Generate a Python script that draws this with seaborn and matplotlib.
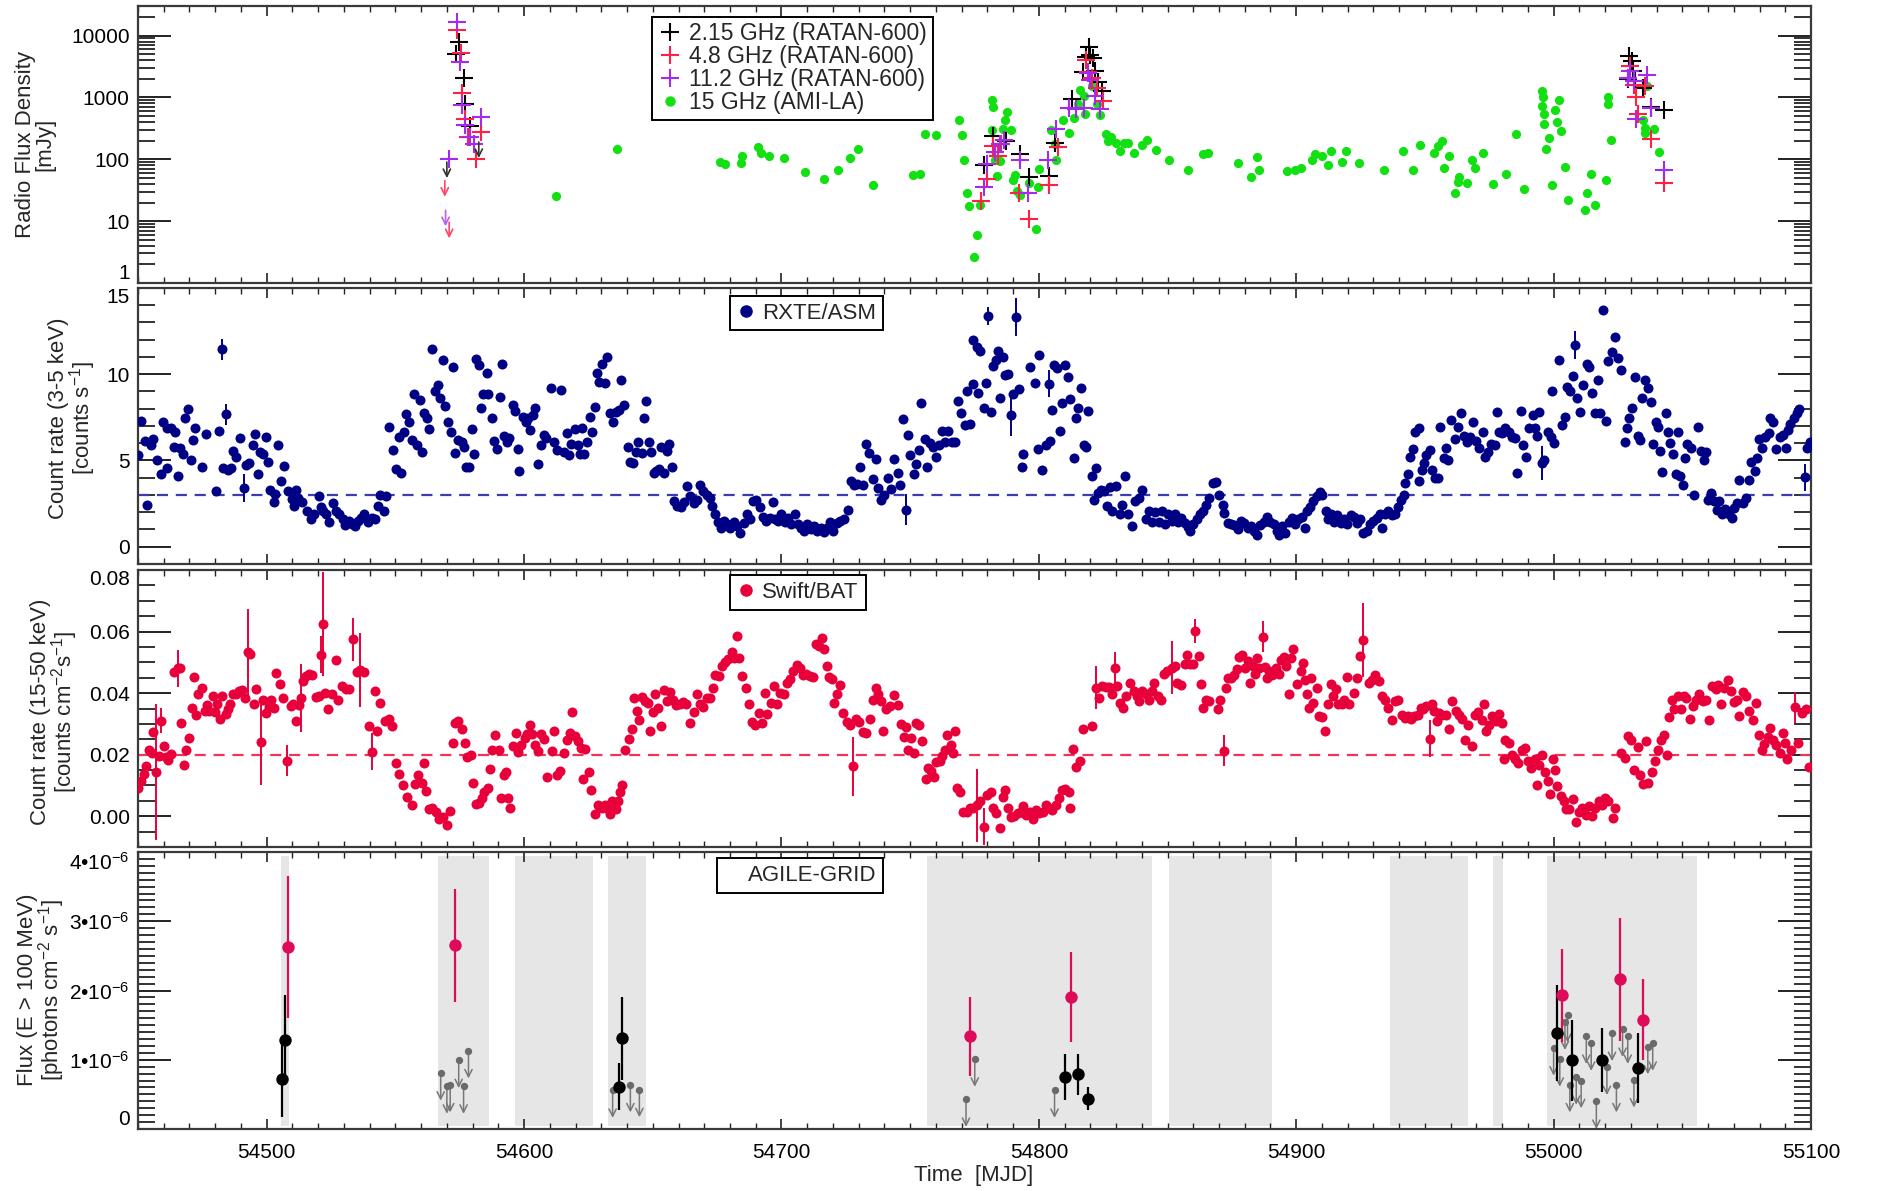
import matplotlib
matplotlib.use("Agg")
import matplotlib.pyplot as plt
import matplotlib.ticker as mticker
from matplotlib.lines import Line2D
import seaborn as sns

sns.set_theme(style="ticks")
plt.rcParams["font.family"] = ["Liberation Sans", "DejaVu Sans"]
plt.rcParams["mathtext.fontset"] = "custom"
plt.rcParams["mathtext.rm"] = "Liberation Sans"
plt.rcParams["mathtext.default"] = "regular"

# ---------------- radio (RATAN-600, AMI-LA) ----------------
r215_mjd = [54574.6, 54573.5, 54576.5, 54577.2, 54578.9, 54778.8, 54782.2, 54787.3, 54792.7, 54796.1,
            54803.9, 54806.3, 54812.9, 54817.1, 54818.5, 54819.5, 54820.0, 54821.0, 54822.0, 54822.9,
            54824.4, 55028.8, 55029.3, 55030.5, 55031.0, 55031.7, 55034.6, 55037.8, 55042.7]
r215_flux = [7800, 5050, 2070, 770, 339, 82, 236, 200, 123, 51,
             53, 182, 950, 2550, 4470, 6460, 4930, 4370, 2650, 1760,
             1260, 1995, 4750, 3940, 2720, 1810, 1430, 695, 614]
r48_mjd = [54574.1, 54575.3, 54576.0, 54577.0, 54578.4, 54581.2, 54583.1, 54777.6, 54779.8, 54782.0,
           54784.0, 54785.4, 54792.2, 54796.1, 54803.9, 54807.3, 54811.7, 54818.2, 54819.0, 54820.7,
           54822.4, 54824.9, 55029.8, 55031.2, 55032.2, 55032.9, 55035.4, 55037.8, 55042.7]
r48_flux = [12300, 5150, 1170, 450, 228, 100, 275, 21, 48, 161,
            115, 178, 28, 11, 38, 157, 679, 3950, 2550, 2070,
            1430, 890, 3270, 1615, 1007, 543, 1550, 215, 41]
r112_mjd = [54573.9, 54575.1, 54575.8, 54577.0, 54579.0, 54580.7, 54583.2, 54570.9, 54778.8, 54780.0,
            54782.9, 54784.9, 54786.6, 54792.7, 54795.6, 54803.7, 54806.8, 54811.7, 54814.6, 54817.6,
            54819.0, 54820.0, 54822.0, 54823.9, 55028.8, 55029.8, 55031.2, 55032.2, 55036.1, 55037.8,
            55042.7]
r112_flux = [16300, 3700, 740, 353, 228, 178, 490, 100, 36, 84,
             130, 178, 207, 98, 29, 98, 311, 679, 654, 679,
             2460, 1875, 1070, 654, 2070, 2720, 1830, 451, 2260, 679,
             66]
ami_mjd = [54612.3, 54636.1, 54676.1, 54678.0, 54684.1, 54684.8, 54690.7, 54692.1, 54695.2, 54700.8,
           54709.0, 54716.4, 54722.0, 54726.7, 54729.8, 54735.4, 54751.0, 54753.8, 54755.7, 54759.9,
           54768.8, 54770.0, 54771.0, 54772.0, 54773.0, 54774.9, 54775.9, 54777.1, 54781.7, 54782.2,
           54781.7, 54782.9, 54783.9, 54784.9, 54786.1, 54786.8, 54787.8, 54789.0, 54789.8, 54790.7,
           54791.7, 54792.7, 54796.3, 54798.8, 54799.5, 54800.0, 54804.9, 54806.1, 54806.8, 54809.3,
           54811.7, 54813.7, 54815.4, 54816.1, 54817.6, 54817.8, 54820.7, 54822.4, 54823.9, 54825.9,
           54826.8, 54828.0, 54829.8, 54831.7, 54832.9, 54834.6, 54836.8, 54840.2, 54841.9, 54845.6,
           54850.5, 54857.8, 54863.9, 54865.9, 54877.3, 54882.4, 54884.6, 54885.4, 54896.3, 54899.5,
           54902.0, 54906.1, 54907.3, 54910.2, 54912.2, 54913.4, 54917.6, 54919.5, 54924.4, 54934.1,
           54941.5, 54945.4, 54948.1, 54953.7, 54954.9, 54956.6, 54957.6, 54959.3, 54961.5, 54962.7,
           54963.4, 54966.3, 54968.3, 54969.5, 54972.4, 54976.3, 54981.5, 54985.4, 54988.3, 54995.6,
           54995.9, 54995.6, 54996.1, 54996.3, 54997.1, 54998.3, 54999.3, 55000.5, 55001.5, 55002.2,
           55002.9, 55004.4, 55005.4, 55012.9, 55012.2, 55014.6, 55015.9, 55020.2, 55021.2, 55021.2,
           55022.2, 55034.9, 55035.4, 55036.1, 55035.6, 55039.0, 55040.9]
ami_flux = [25.5, 144, 92, 84, 86, 111, 157, 127, 111, 106,
            62, 48, 68, 106, 148, 39, 56, 58, 258, 249,
            434, 251, 96, 29, 17.5, 2.6, 6.0, 18.4, 915, 695,
            292, 98, 53, 93, 310, 434, 576, 300, 47, 55,
            31, 26, 41, 7.5, 36, 70, 300, 178, 98, 434,
            264, 467, 787, 1325, 1035, 543, 1500, 768, 524, 258,
            200, 233, 183, 134, 183, 183, 127, 167, 207, 139,
            99, 66, 123, 126, 88, 51, 108, 68, 64, 66,
            73, 98, 123, 115, 82, 135, 90, 135, 86, 68,
            135, 68, 167, 126, 161, 200, 73, 115, 28, 43,
            51, 41, 96, 73, 127, 40, 58, 258, 33, 1290,
            1007, 713, 543, 365, 148, 222, 39, 614, 398, 915,
            285, 75, 22, 28, 15, 57, 18, 47, 1007, 787,
            207, 424, 264, 1550, 323, 311, 130]
# upper limits (arrow start values)
ul215_mjd = [54570.0, 54582.4]
ul215_flux = [90, 190]
ul48_mjd = [54569.2, 54570.9]
ul48_flux = [45, 9.6]
ul112_mjd = [54569.5]
ul112_flux = [15]

# ---------------- RXTE/ASM 3-5 keV ----------------
asm_mjd = [54450.1, 54451.0, 54452.8, 54453.6, 54455.0, 54455.8, 54457.5, 54459.0, 54459.6, 54461.3,
           54461.3, 54462.7, 54463.8, 54464.2, 54465.5, 54466.5, 54467.6, 54468.4, 54469.5, 54470.5,
           54471.2, 54472.2, 54474.9, 54476.4, 54480.2, 54481.3, 54482.7, 54483.2, 54484.0, 54484.8,
           54486.1, 54486.9, 54488.2, 54489.5, 54491.2, 54491.8, 54493.3, 54494.5, 54495.4, 54496.6,
           54497.5, 54498.7, 54499.6, 54500.4, 54501.3, 54502.9, 54503.4, 54504.4, 54505.5, 54506.9,
           54508.4, 54509.7, 54510.5, 54511.4, 54512.2, 54513.9, 54515.6, 54517.3, 54518.5, 54520.2,
           54521.0, 54521.9, 54523.2, 54524.4, 54525.7, 54526.9, 54528.2, 54529.5, 54530.3, 54532.0,
           54533.3, 54534.5, 54535.4, 54536.6, 54537.9, 54539.2, 54540.8, 54542.1, 54543.4, 54544.2,
           54545.5, 54546.3, 54547.4, 54549.1, 54550.1, 54551.4, 54552.2, 54553.3, 54554.3, 54555.4,
           54556.4, 54557.3, 54558.5, 54559.4, 54560.2, 54561.1, 54562.3, 54563.2, 54564.4, 54565.3,
           54566.5, 54567.4, 54568.4, 54569.1, 54570.3, 54571.6, 54572.2, 54573.3, 54574.3, 54575.8,
           54576.6, 54577.5, 54578.7, 54579.6, 54580.4, 54581.3, 54582.3, 54583.4, 54584.2, 54585.5,
           54585.9, 54587.6, 54588.4, 54589.3, 54590.5, 54591.4, 54592.2, 54593.5, 54594.3, 54595.6,
           54596.4, 54597.5, 54598.1, 54599.6, 54600.6, 54601.7, 54602.3, 54603.6, 54604.4, 54605.3,
           54606.5, 54607.8, 54608.6, 54610.3, 54611.6, 54612.8, 54614.5, 54615.4, 54616.6, 54617.5,
           54618.3, 54619.6, 54620.8, 54621.7, 54622.5, 54623.4, 54624.6, 54625.5, 54626.3, 54627.6,
           54628.4, 54629.3, 54630.1, 54631.4, 54632.2, 54633.5, 54634.7, 54635.6, 54636.8, 54637.7,
           54639.0, 54640.2, 54641.1, 54642.3, 54643.6, 54644.4, 54645.7, 54646.5, 54647.4, 54648.6,
           54649.5, 54650.3, 54651.2, 54652.4, 54653.3, 54654.5, 54655.4, 54656.4, 54657.5, 54658.3,
           54659.6, 54660.8, 54662.1, 54663.4, 54664.6, 54665.9, 54667.2, 54668.4, 54669.7, 54671.0,
           54672.2, 54673.0, 54674.3, 54675.2, 54676.4, 54677.7, 54678.9, 54680.2, 54681.5, 54682.7,
           54684.0, 54685.3, 54686.5, 54687.8, 54689.1, 54690.3, 54691.6, 54692.8, 54694.1, 54695.4,
           54696.6, 54697.5, 54698.7, 54700.0, 54701.3, 54702.5, 54703.8, 54705.1, 54706.3, 54707.6,
           54708.8, 54710.1, 54711.4, 54712.6, 54713.9, 54715.2, 54716.4, 54717.7, 54719.0, 54720.2,
           54721.5, 54722.7, 54724.4, 54725.7, 54726.9, 54728.2, 54729.5, 54730.7, 54731.6, 54732.8,
           54734.1, 54735.4, 54736.6, 54737.5, 54738.7, 54740.0, 54741.3, 54742.5, 54743.8, 54745.1,
           54745.9, 54747.2, 54748.4, 54749.3, 54750.1, 54751.4, 54752.2, 54753.5, 54754.3, 54755.6,
           54756.4, 54757.7, 54759.0, 54760.2, 54761.1, 54762.3, 54763.6, 54764.8, 54766.1, 54767.4,
           54768.6, 54769.9, 54771.2, 54772.0, 54773.3, 54774.3, 54774.3, 54775.8, 54776.4, 54777.1,
           54778.5, 54779.6, 54780.2, 54781.3, 54782.1, 54783.4, 54784.2, 54785.1, 54785.9, 54787.0,
           54788.0, 54789.1, 54790.1, 54791.2, 54792.2, 54793.3, 54793.9, 54796.4, 54798.5, 54799.6,
           54800.2, 54801.3, 54802.7, 54803.8, 54804.4, 54805.3, 54805.9, 54806.9, 54808.2, 54809.1,
           54810.1, 54811.2, 54812.2, 54813.7, 54814.5, 54815.4, 54816.4, 54817.5, 54818.5, 54819.2,
           54820.6, 54822.1, 54821.3, 54822.9, 54824.2, 54825.5, 54826.3, 54827.6, 54828.4, 54830.1,
           54831.4, 54832.2, 54833.5, 54834.7, 54836.0, 54837.5, 54839.0, 54840.2, 54841.5, 54842.7,
           54844.0, 54845.3, 54846.5, 54847.8, 54849.1, 54850.3, 54851.6, 54852.8, 54854.1, 54855.4,
           54856.6, 54857.9, 54858.7, 54860.0, 54861.3, 54862.5, 54863.8, 54865.1, 54866.3, 54867.6,
           54868.8, 54870.1, 54871.4, 54871.8, 54873.3, 54874.7, 54876.0, 54877.3, 54878.5, 54879.8,
           54881.1, 54882.3, 54883.6, 54884.8, 54886.1, 54887.4, 54888.6, 54889.9, 54891.2, 54892.4,
           54893.3, 54894.5, 54895.8, 54897.1, 54898.3, 54899.6, 54900.8, 54902.1, 54903.4, 54904.2,
           54905.5, 54906.7, 54908.0, 54909.3, 54910.1, 54911.4, 54912.2, 54913.5, 54914.7, 54916.0,
           54917.3, 54918.5, 54919.8, 54921.1, 54922.3, 54923.6, 54924.8, 54926.1, 54927.4, 54928.6,
           54929.9, 54931.2, 54932.4, 54933.3, 54934.5, 54935.8, 54937.1, 54938.4, 54939.6, 54940.6,
           54941.7, 54942.1, 54943.4, 54944.2, 54945.5, 54946.3, 54947.6, 54947.6, 54948.8, 54949.7,
           54950.5, 54952.1, 54952.6, 54953.9, 54955.2, 54956.0, 54957.3, 54958.1, 54958.9, 54960.2,
           54961.5, 54962.7, 54964.0, 54965.3, 54966.5, 54967.4, 54968.6, 54969.9, 54971.2, 54972.4,
           54973.3, 54974.5, 54975.8, 54977.1, 54977.9, 54978.7, 54980.0, 54981.3, 54982.5, 54983.8,
           54985.1, 54985.9, 54987.2, 54988.0, 54989.3, 54990.5, 54991.8, 54992.6, 54993.5, 54994.3,
           54995.4, 54996.4, 54997.7, 54998.9, 55000.2, 54999.4, 55001.9, 55003.2, 55004.4, 55005.3,
           55006.5, 55007.4, 55008.2, 55009.1, 55010.3, 55011.6, 55012.8, 55013.7, 55014.9, 55016.2,
           55017.1, 55017.9, 55019.2, 55020.4, 55021.3, 55022.5, 55023.8, 55025.1, 55026.3, 55027.6,
           55028.4, 55029.3, 55030.5, 55031.8, 55032.6, 55033.5, 55034.4, 55035.6, 55036.5, 55037.8,
           55038.5, 55039.8, 55040.6, 55041.5, 55042.3, 55043.6, 55044.4, 55045.3, 55046.5, 55047.4,
           55048.2, 55049.1, 55050.3, 55051.2, 55052.0, 55053.3, 55054.5, 55056.2, 55057.1, 55058.3,
           55059.2, 55060.0, 55061.3, 55062.5, 55063.4, 55064.2, 55065.5, 55066.7, 55068.0, 55069.3,
           55070.1, 55071.4, 55072.2, 55073.5, 55074.7, 55076.0, 55076.8, 55078.1, 55078.9, 55079.7,
           55081.0, 55082.3, 55083.5, 55084.0, 55085.3, 55086.5, 55087.8, 55089.1, 55090.3, 55091.2,
           55092.0, 55093.3, 55094.5, 55095.4, 55097.5, 55098.5, 55099.6]
asm_rate = [5.33, 7.29, 6.13, 2.40, 5.90, 6.25, 5.04, 4.21, 7.25, 6.90,
            4.56, 6.87, 5.81, 6.67, 4.08, 5.71, 5.37, 7.44, 7.98, 5.04,
            6.19, 6.90, 4.60, 6.52, 3.21, 6.71, 11.44, 4.56, 7.67, 4.46,
            4.56, 5.56, 5.23, 6.33, 3.40, 4.75, 4.85, 5.90, 6.52, 4.21,
            5.48, 5.37, 6.38, 4.90, 3.31, 2.60, 3.06, 5.87, 3.83, 4.71,
            3.21, 2.79, 2.35, 3.31, 2.83, 2.60, 2.10, 1.58, 1.87, 2.92,
            2.29, 2.06, 1.87, 1.44, 2.54, 2.06, 1.87, 1.63, 1.25, 1.52,
            1.33, 1.21, 1.48, 1.67, 1.90, 1.44, 1.67, 1.58, 2.35, 2.98,
            2.06, 2.92, 6.96, 5.62, 4.52, 6.38, 4.27, 6.67, 7.67, 7.25,
            6.19, 8.88, 5.90, 8.50, 5.52, 7.73, 7.44, 6.83, 11.44, 9.02,
            9.40, 8.60, 10.81, 8.17, 7.25, 6.67, 10.42, 5.42, 6.19, 6.06,
            5.81, 4.65, 4.65, 6.83, 5.37, 10.90, 10.52, 8.06, 8.88, 10.10,
            8.88, 7.48, 6.13, 5.67, 8.69, 10.62, 6.44, 6.10, 6.33, 8.21,
            7.87, 5.67, 4.37, 7.54, 7.25, 7.44, 6.77, 7.63, 8.06, 4.79,
            5.90, 6.48, 6.33, 9.21, 6.10, 5.62, 9.06, 5.52, 6.58, 5.29,
            5.94, 6.83, 5.90, 5.37, 6.87, 5.37, 6.10, 7.54, 6.67, 8.12,
            10.10, 9.56, 10.62, 9.52, 11.00, 7.73, 7.21, 7.83, 7.92, 9.65,
            8.21, 5.81, 4.90, 4.85, 5.52, 6.10, 5.42, 7.44, 8.44, 6.10,
            5.52, 4.27, 4.37, 4.52, 5.81, 4.27, 5.56, 5.94, 4.65, 2.63,
            2.35, 2.29, 2.60, 3.50, 2.92, 2.54, 2.73, 3.60, 3.25, 2.98,
            2.83, 2.35, 1.90, 1.44, 1.10, 1.48, 1.33, 1.10, 1.44, 1.19,
            0.81, 1.38, 1.87, 1.58, 2.63, 2.73, 2.29, 1.71, 1.48, 1.67,
            2.60, 1.58, 1.48, 1.90, 1.44, 1.67, 1.33, 1.87, 1.29, 1.10,
            0.94, 1.29, 1.00, 1.19, 0.94, 1.10, 0.87, 1.10, 1.44, 0.90,
            1.38, 1.48, 1.58, 2.15, 3.79, 3.60, 3.63, 4.60, 3.60, 5.94,
            5.42, 3.94, 5.10, 3.40, 2.73, 3.02, 3.98, 3.37, 5.10, 4.27,
            3.60, 7.40, 2.15, 6.48, 5.29, 4.21, 4.79, 5.62, 8.31, 6.25,
            4.65, 6.00, 5.81, 5.23, 5.90, 6.71, 6.10, 6.71, 6.10, 6.06,
            8.44, 7.73, 7.06, 9.02, 7.10, 11.96, 9.46, 11.58, 8.94, 11.33,
            8.06, 9.52, 13.37, 7.79, 10.48, 10.81, 11.33, 8.60, 11.00, 9.98,
            10.04, 7.63, 8.88, 13.31, 9.17, 4.65, 5.37, 10.42, 9.52, 5.67,
            11.13, 4.46, 5.90, 9.46, 6.13, 7.92, 10.56, 10.37, 6.71, 8.31,
            10.56, 9.85, 8.56, 5.17, 7.48, 8.02, 9.21, 5.90, 5.81, 7.87,
            4.13, 4.56, 2.73, 3.12, 3.31, 3.21, 2.35, 3.44, 2.06, 3.50,
            1.87, 2.44, 4.08, 1.90, 1.19, 2.63, 2.83, 3.31, 1.58, 2.06,
            1.44, 2.02, 1.44, 2.06, 1.33, 1.87, 1.48, 1.90, 1.44, 1.67,
            1.38, 1.13, 0.90, 1.29, 1.63, 1.90, 2.10, 2.40, 2.83, 3.69,
            3.75, 3.02, 2.44, 1.96, 1.38, 1.33, 1.25, 1.00, 1.52, 1.38,
            1.10, 1.19, 0.90, 0.71, 1.25, 1.44, 1.71, 1.44, 1.29, 0.90,
            0.67, 1.19, 0.81, 1.44, 1.67, 1.33, 1.63, 1.71, 1.06, 2.06,
            2.29, 2.63, 2.92, 3.17, 3.02, 2.06, 1.58, 1.87, 1.44, 1.83,
            1.38, 1.58, 1.29, 1.83, 1.71, 1.38, 1.58, 0.81, 0.94, 1.33,
            1.48, 1.67, 1.87, 1.06, 1.90, 2.06, 1.83, 1.87, 2.29, 2.73,
            3.02, 3.69, 4.21, 5.23, 5.67, 6.67, 6.87, 3.83, 4.46, 4.85,
            5.33, 5.62, 4.46, 3.98, 3.98, 6.96, 5.17, 5.71, 5.04, 7.35,
            6.25, 6.96, 7.73, 6.44, 6.06, 6.38, 7.25, 6.13, 5.71, 6.63,
            5.23, 5.52, 5.94, 5.90, 7.83, 6.67, 6.58, 6.90, 6.67, 6.38,
            6.29, 4.27, 7.87, 5.87, 5.23, 6.87, 7.63, 6.90, 6.44, 7.79,
            4.85, 5.04, 6.63, 6.38, 6.00, 9.02, 10.81, 7.06, 7.54, 9.27,
            9.02, 9.90, 11.71, 8.60, 7.79, 9.37, 10.62, 10.42, 8.94, 7.73,
            9.65, 7.73, 13.75, 7.29, 10.75, 11.29, 12.15, 10.94, 10.23, 6.10,
            6.90, 7.44, 8.06, 9.85, 6.44, 6.19, 8.63, 9.65, 9.21, 8.40,
            5.94, 7.25, 6.96, 5.56, 4.33, 7.73, 6.67, 6.00, 5.37, 4.21,
            6.67, 4.13, 3.60, 5.13, 5.94, 5.71, 3.02, 6.96, 5.56, 5.04,
            5.52, 2.73, 3.12, 2.63, 2.15, 2.63, 1.87, 2.21, 1.87, 1.67,
            2.25, 2.54, 3.88, 2.54, 2.83, 3.88, 4.94, 4.40, 5.13, 6.25,
            5.71, 6.38, 6.58, 7.44, 7.25, 5.67, 6.38, 6.48, 5.75, 6.77,
            7.10, 7.44, 7.73, 7.98, 4.02, 5.71, 6.10]
asm_bar_mjd = [54482.7, 54484.0, 54491.2, 54748.4, 54780.2, 54789.1, 54791.2, 54803.8, 54995.4, 55008.2, 55097.5]
asm_bar_rate = [11.44, 7.67, 3.40, 2.15, 13.37, 7.63, 13.31, 9.46, 4.85, 11.71, 4.02]
asm_bar_err = [0.6, 0.6, 0.8, 0.9, 0.5, 1.2, 1.1, 0.8, 1.0, 0.8, 0.8]
asm_level = 3.0

# ---------------- Swift/BAT 15-50 keV ----------------
bat_mjd = [54450.1, 54451.2, 54452.2, 54453.3, 54454.3, 54455.4, 54456.0, 54457.1, 54458.0, 54459.0,
           54460.0, 54460.8, 54461.7, 54462.7, 54463.8, 54465.5, 54466.3, 54466.9, 54468.0, 54468.8,
           54469.7, 54470.9, 54471.8, 54472.6, 54473.5, 54474.7, 54476.0, 54476.8, 54477.7, 54479.0,
           54479.8, 54480.6, 54481.9, 54482.7, 54484.0, 54484.8, 54485.7, 54486.9, 54488.2, 54489.1,
           54490.3, 54491.6, 54492.8, 54493.7, 54494.9, 54495.8, 54497.9, 54498.7, 54499.6, 54500.8,
           54501.7, 54502.9, 54503.8, 54505.1, 54506.3, 54508.0, 54509.3, 54510.1, 54511.4, 54512.6,
           54513.5, 54514.3, 54515.2, 54516.4, 54517.7, 54519.0, 54520.2, 54521.0, 54521.9, 54522.7,
           54524.0, 54525.3, 54526.9, 54527.8, 54529.1, 54530.7, 54532.0, 54533.7, 54535.0, 54536.2,
           54537.9, 54539.6, 54540.8, 54542.1, 54543.0, 54544.2, 54545.9, 54547.6, 54548.8, 54550.1,
           54551.4, 54553.1, 54554.7, 54556.4, 54557.7, 54558.9, 54560.2, 54561.1, 54561.9, 54563.2,
           54564.4, 54565.7, 54567.0, 54568.6, 54569.9, 54571.2, 54572.4, 54573.3, 54574.5, 54575.8,
           54577.1, 54577.9, 54579.2, 54580.0, 54581.3, 54582.5, 54583.8, 54584.6, 54585.9, 54586.7,
           54587.6, 54588.8, 54590.1, 54591.0, 54592.2, 54593.1, 54593.9, 54594.7, 54595.6, 54596.8,
           54597.7, 54598.9, 54600.2, 54601.1, 54602.3, 54603.2, 54604.4, 54605.3, 54606.5, 54607.8,
           54609.1, 54610.7, 54611.6, 54612.8, 54614.1, 54615.4, 54616.6, 54617.9, 54618.7, 54619.6,
           54620.8, 54622.1, 54622.9, 54623.8, 54625.1, 54625.9, 54627.6, 54628.8, 54630.1, 54631.4,
           54632.6, 54633.5, 54634.3, 54635.6, 54636.4, 54637.3, 54638.1, 54639.4, 54640.6, 54641.9,
           54642.7, 54644.0, 54644.8, 54645.7, 54646.9, 54648.2, 54649.1, 54649.9, 54650.7, 54652.0,
           54653.3, 54654.5, 54655.4, 54656.6, 54657.9, 54659.2, 54660.4, 54661.7, 54663.0, 54664.6,
           54665.9, 54667.2, 54668.4, 54669.7, 54671.0, 54672.2, 54673.5, 54674.3, 54675.6, 54676.8,
           54678.1, 54679.4, 54680.6, 54681.5, 54682.7, 54683.6, 54684.8, 54686.1, 54687.4, 54688.6,
           54689.9, 54691.2, 54692.4, 54693.7, 54694.5, 54695.8, 54697.1, 54698.3, 54699.6, 54700.8,
           54702.1, 54703.4, 54704.6, 54705.9, 54707.2, 54708.4, 54709.7, 54711.0, 54712.2, 54713.5,
           54714.7, 54715.6, 54716.4, 54717.7, 54718.5, 54719.8, 54720.6, 54721.5, 54722.7, 54724.0,
           54725.3, 54726.5, 54727.8, 54729.1, 54730.3, 54731.6, 54732.8, 54734.5, 54735.4, 54736.6,
           54737.5, 54738.7, 54739.6, 54740.8, 54742.1, 54743.8, 54745.1, 54746.3, 54747.6, 54748.4,
           54749.3, 54750.5, 54751.4, 54752.2, 54753.5, 54754.7, 54756.0, 54756.8, 54758.1, 54759.4,
           54760.2, 54761.5, 54762.3, 54763.6, 54764.4, 54765.7, 54766.5, 54767.4, 54768.2, 54769.5,
           54770.7, 54772.0, 54773.3, 54774.3, 54775.8, 54777.1, 54778.5, 54780.0, 54781.3, 54782.1,
           54783.4, 54785.1, 54785.9, 54787.0, 54788.0, 54789.3, 54790.5, 54791.8, 54793.1, 54793.9,
           54795.2, 54796.4, 54797.7, 54798.9, 54800.2, 54801.5, 54802.7, 54804.0, 54805.3, 54806.5,
           54807.8, 54809.1, 54810.3, 54811.6, 54812.0, 54813.3, 54814.5, 54815.8, 54817.1, 54820.8,
           54822.1, 54823.4, 54824.6, 54825.9, 54827.2, 54828.4, 54829.7, 54830.5, 54831.4, 54832.6,
           54833.9, 54835.6, 54836.8, 54838.1, 54838.9, 54840.2, 54841.5, 54842.7, 54844.0, 54844.8,
           54846.1, 54847.4, 54848.6, 54849.9, 54851.6, 54852.8, 54853.7, 54855.4, 54856.6, 54857.5,
           54858.7, 54860.0, 54860.8, 54862.1, 54862.9, 54863.8, 54865.1, 54866.3, 54869.7, 54870.5,
           54871.8, 54872.6, 54873.5, 54874.7, 54876.0, 54876.8, 54877.7, 54878.9, 54880.2, 54881.1,
           54881.9, 54883.2, 54884.0, 54884.8, 54885.7, 54887.0, 54887.8, 54888.6, 54889.5, 54890.7,
           54892.0, 54893.3, 54894.1, 54895.4, 54896.2, 54897.1, 54897.9, 54898.7, 54900.4, 54901.7,
           54902.5, 54903.4, 54904.2, 54905.1, 54905.9, 54906.7, 54908.0, 54908.8, 54910.1, 54911.0,
           54912.2, 54913.5, 54914.3, 54915.6, 54916.4, 54917.7, 54918.5, 54919.8, 54920.6, 54922.3,
           54923.6, 54924.8, 54925.9, 54928.2, 54929.5, 54930.7, 54932.0, 54933.3, 54934.5, 54935.8,
           54937.1, 54938.4, 54939.6, 54941.0, 54942.1, 54943.4, 54944.6, 54945.9, 54947.2, 54948.4,
           54949.3, 54950.5, 54952.1, 54952.6, 54953.5, 54954.7, 54955.6, 54956.8, 54958.1, 54959.4,
           54960.6, 54961.9, 54963.2, 54964.4, 54965.7, 54966.9, 54968.2, 54969.5, 54970.7, 54972.0,
           54972.8, 54973.7, 54975.0, 54976.2, 54977.5, 54978.7, 54980.0, 54981.3, 54982.5, 54980.8,
           54983.8, 54985.1, 54986.3, 54987.6, 54988.8, 54990.1, 54991.4, 54992.6, 54993.5, 54994.3,
           54995.6, 54996.8, 54997.7, 54998.5, 54999.8, 55000.6, 55001.5, 55002.7, 55004.0, 55004.8,
           55006.1, 55007.4, 55008.6, 55009.9, 55011.2, 55012.4, 55013.7, 55014.9, 55016.2, 55017.5,
           55018.7, 55020.0, 55021.3, 55022.9, 55023.8, 55026.3, 55027.6, 55028.8, 55030.1, 55031.4,
           55032.6, 55033.5, 55034.7, 55036.0, 55036.8, 55038.1, 55039.4, 55040.6, 55041.9, 55042.7,
           55044.0, 55044.8, 55046.1, 55046.9, 55048.2, 55049.5, 55050.7, 55051.6, 55052.8, 55054.1,
           55055.4, 55056.6, 55057.9, 55059.2, 55060.4, 55061.7, 55063.0, 55063.8, 55065.1, 55066.3,
           55067.6, 55068.8, 55070.1, 55071.4, 55072.2, 55073.5, 55074.7, 55076.0, 55077.3, 55078.5,
           55079.8, 55081.1, 55081.9, 55083.2, 55084.0, 55085.3, 55086.5, 55087.8, 55089.1, 55089.9,
           55090.7, 55092.4, 55093.7, 55095.0, 55096.6, 55097.9, 55099.2]
bat_rate = [0.0091, 0.0113, 0.0137, 0.0162, 0.0216, 0.0205, 0.0274, 0.0143, 0.0195, 0.0311,
            0.0227, 0.0191, 0.0184, 0.0202, 0.0470, 0.0480, 0.0483, 0.0303, 0.0167, 0.0216,
            0.0254, 0.0352, 0.0452, 0.0330, 0.0398, 0.0415, 0.0343, 0.0361, 0.0343, 0.0390,
            0.0339, 0.0363, 0.0317, 0.0390, 0.0333, 0.0347, 0.0365, 0.0398, 0.0398, 0.0407,
            0.0409, 0.0383, 0.0532, 0.0528, 0.0363, 0.0412, 0.0241, 0.0379, 0.0336, 0.0354,
            0.0376, 0.0352, 0.0466, 0.0428, 0.0383, 0.0180, 0.0358, 0.0365, 0.0311, 0.0361,
            0.0385, 0.0439, 0.0455, 0.0461, 0.0459, 0.0387, 0.0390, 0.0524, 0.0624, 0.0401,
            0.0347, 0.0398, 0.0507, 0.0379, 0.0423, 0.0412, 0.0412, 0.0575, 0.0470, 0.0474,
            0.0470, 0.0292, 0.0209, 0.0407, 0.0278, 0.0368, 0.0309, 0.0317, 0.0292, 0.0173,
            0.0137, 0.0102, 0.0064, 0.0035, 0.0104, 0.0133, 0.0108, 0.0173, 0.0083, 0.0024,
            0.0028, 0.0013, -0.0009, -0.0001, -0.0028, 0.0017, 0.0238, 0.0303, 0.0309, 0.0285,
            0.0238, 0.0191, 0.0198, 0.0108, 0.0039, 0.0042, 0.0059, 0.0080, 0.0093, 0.0154,
            0.0216, 0.0263, 0.0216, 0.0059, 0.0135, 0.0143, 0.0059, 0.0026, 0.0227, 0.0271,
            0.0209, 0.0233, 0.0254, 0.0267, 0.0296, 0.0267, 0.0233, 0.0213, 0.0267, 0.0252,
            0.0129, 0.0211, 0.0278, 0.0133, 0.0146, 0.0205, 0.0249, 0.0271, 0.0339, 0.0260,
            0.0243, 0.0222, 0.0122, 0.0220, 0.0143, 0.0086, 0.0007, 0.0035, 0.0026, 0.0035,
            0.0024, 0.0007, 0.0048, 0.0024, 0.0048, 0.0078, 0.0100, 0.0216, 0.0252, 0.0282,
            0.0385, 0.0343, 0.0314, 0.0387, 0.0374, 0.0368, 0.0276, 0.0339, 0.0398, 0.0352,
            0.0292, 0.0409, 0.0374, 0.0404, 0.0379, 0.0361, 0.0363, 0.0372, 0.0365, 0.0303,
            0.0339, 0.0396, 0.0363, 0.0354, 0.0383, 0.0385, 0.0417, 0.0459, 0.0455, 0.0488,
            0.0502, 0.0510, 0.0532, 0.0513, 0.0586, 0.0513, 0.0455, 0.0415, 0.0363, 0.0307,
            0.0298, 0.0336, 0.0303, 0.0401, 0.0333, 0.0368, 0.0423, 0.0363, 0.0401, 0.0396,
            0.0434, 0.0445, 0.0472, 0.0491, 0.0483, 0.0459, 0.0463, 0.0455, 0.0452, 0.0561,
            0.0553, 0.0578, 0.0542, 0.0488, 0.0452, 0.0445, 0.0368, 0.0396, 0.0426, 0.0336,
            0.0307, 0.0298, 0.0162, 0.0317, 0.0307, 0.0274, 0.0271, 0.0317, 0.0379, 0.0417,
            0.0396, 0.0374, 0.0278, 0.0347, 0.0358, 0.0393, 0.0361, 0.0300, 0.0257, 0.0289,
            0.0216, 0.0254, 0.0205, 0.0303, 0.0298, 0.0246, 0.0122, 0.0157, 0.0148, 0.0129,
            0.0176, 0.0180, 0.0195, 0.0216, 0.0263, 0.0233, 0.0205, 0.0276, 0.0091, 0.0080,
            0.0015, 0.0013, 0.0028, 0.0026, 0.0035, 0.0048, -0.0034, 0.0070, 0.0080, 0.0026,
            0.0010, -0.0037, 0.0061, 0.0086, 0.0028, -0.0004, 0.0002, 0.0010, 0.0015, 0.0032,
            0.0004, 0.0015, -0.0009, 0.0021, 0.0010, 0.0015, 0.0035, 0.0026, 0.0021, 0.0035,
            0.0059, 0.0086, 0.0089, 0.0080, 0.0026, 0.0220, 0.0159, 0.0178, 0.0282, 0.0292,
            0.0417, 0.0385, 0.0423, 0.0420, 0.0420, 0.0396, 0.0483, 0.0423, 0.0368, 0.0352,
            0.0390, 0.0434, 0.0407, 0.0390, 0.0374, 0.0407, 0.0396, 0.0379, 0.0407, 0.0434,
            0.0390, 0.0376, 0.0461, 0.0472, 0.0483, 0.0488, 0.0434, 0.0426, 0.0493, 0.0524,
            0.0493, 0.0493, 0.0602, 0.0521, 0.0428, 0.0352, 0.0376, 0.0374, 0.0350, 0.0376,
            0.0213, 0.0417, 0.0450, 0.0450, 0.0459, 0.0477, 0.0517, 0.0524, 0.0483, 0.0504,
            0.0434, 0.0488, 0.0463, 0.0513, 0.0483, 0.0583, 0.0485, 0.0450, 0.0472, 0.0459,
            0.0483, 0.0461, 0.0507, 0.0517, 0.0488, 0.0398, 0.0513, 0.0542, 0.0430, 0.0472,
            0.0499, 0.0441, 0.0396, 0.0352, 0.0450, 0.0368, 0.0415, 0.0325, 0.0322, 0.0278,
            0.0363, 0.0430, 0.0390, 0.0412, 0.0365, 0.0363, 0.0379, 0.0452, 0.0365, 0.0401,
            0.0450, 0.0521, 0.0572, 0.0434, 0.0441, 0.0459, 0.0439, 0.0390, 0.0376, 0.0352,
            0.0314, 0.0374, 0.0376, 0.0330, 0.0320, 0.0325, 0.0317, 0.0325, 0.0330, 0.0352,
            0.0347, 0.0358, 0.0252, 0.0365, 0.0341, 0.0309, 0.0336, 0.0330, 0.0330, 0.0282,
            0.0374, 0.0341, 0.0330, 0.0317, 0.0249, 0.0296, 0.0227, 0.0330, 0.0339, 0.0314,
            0.0363, 0.0276, 0.0298, 0.0325, 0.0311, 0.0333, 0.0303, 0.0249, 0.0238, 0.0187,
            0.0200, 0.0187, 0.0173, 0.0216, 0.0222, 0.0180, 0.0157, 0.0187, 0.0100, 0.0167,
            0.0200, 0.0143, 0.0113, 0.0072, 0.0187, 0.0151, 0.0097, 0.0067, 0.0050, 0.0024,
            0.0024, 0.0057, -0.0020, 0.0015, 0.0028, 0.0004, 0.0032, 0.0002, 0.0026, 0.0048,
            0.0037, 0.0059, 0.0048, -0.0007, 0.0028, 0.0205, 0.0189, 0.0260, 0.0249, 0.0151,
            0.0224, 0.0133, 0.0104, 0.0243, 0.0108, 0.0143, 0.0180, 0.0216, 0.0249, 0.0265,
            0.0200, 0.0322, 0.0376, 0.0350, 0.0390, 0.0350, 0.0390, 0.0385, 0.0317, 0.0358,
            0.0376, 0.0396, 0.0374, 0.0376, 0.0314, 0.0423, 0.0412, 0.0426, 0.0363, 0.0417,
            0.0441, 0.0407, 0.0372, 0.0376, 0.0325, 0.0404, 0.0390, 0.0343, 0.0314, 0.0368,
            0.0265, 0.0216, 0.0235, 0.0257, 0.0287, 0.0249, 0.0233, 0.0205, 0.0271, 0.0238,
            0.0187, 0.0216, 0.0354, 0.0238, 0.0336, 0.0347, 0.0159]
bat_bar_mjd = [54457.1, 54459.0, 54465.5, 54492.8, 54497.9, 54508.0, 54513.5, 54521.0, 54521.9, 54533.7,
               54536.2, 54540.8, 54727.8, 54775.8, 54778.5, 54822.1, 54829.7, 54851.6, 54860.8, 54871.8,
               54887.0, 54925.9, 54952.1, 55093.7]
bat_bar_rate = [0.0143, 0.0311, 0.0480, 0.0532, 0.0241, 0.0180, 0.0385, 0.0524, 0.0624, 0.0575,
                0.0474, 0.0209, 0.0162, 0.0035, -0.0034, 0.0417, 0.0483, 0.0483, 0.0602, 0.0213,
                0.0583, 0.0572, 0.0252, 0.0354]
bat_bar_err = [0.022, 0.004, 0.006, 0.014, 0.014, 0.005, 0.011, 0.006, 0.017, 0.007,
               0.012, 0.006, 0.0095, 0.012, 0.006, 0.007, 0.005, 0.0085, 0.004, 0.005,
               0.005, 0.012, 0.006, 0.005]
bat_level = 0.02

# ---------------- AGILE-GRID (E > 100 MeV), units of 1e-6 ----------------
agile_hi_mjd = [54508.2, 54573.0, 54773.4, 54812.4, 55003.2, 55025.6, 55034.9]
agile_hi_flux = [2.63, 2.65, 1.34, 1.91, 1.93, 2.16, 1.58]
agile_hi_err = [1.03, 0.81, 0.57, 0.65, 0.67, 0.89, 0.58]
agile_lo_mjd = [54505.9, 54507.0, 54638.2, 54636.8, 54810.2, 54815.4, 54819.0, 55001.2, 55007.3, 55018.8, 55032.9]
agile_lo_flux = [0.72, 1.28, 1.31, 0.61, 0.75, 0.79, 0.44, 1.39, 0.99, 1.00, 0.88]
agile_lo_err = [0.55, 0.65, 0.60, 0.34, 0.33, 0.30, 0.17, 0.69, 0.58, 0.46, 0.50]
agile_ul_mjd = [54567.6, 54570.0, 54571.3, 54574.6, 54576.5, 54578.4, 54634.4, 54641.3, 54644.8, 54771.7,
                54775.1, 54806.1, 55000.0, 55002.4, 55004.4, 55005.4, 55006.3, 55008.8, 55010.7, 55012.7,
                55014.6, 55016.6, 55020.7, 55022.7, 55024.4, 55026.8, 55028.8, 55031.2, 55036.6, 55038.5]
agile_ul_flux = [0.81, 0.62, 0.64, 0.99, 0.62, 1.13, 0.56, 0.64, 0.57, 0.43,
                 1.01, 0.56, 1.17, 1.01, 1.54, 1.65, 0.64, 0.75, 0.70, 1.34,
                 1.24, 0.40, 0.89, 1.38, 0.64, 1.44, 1.34, 0.71, 1.19, 1.24]
agile_win_start = [54505.4, 54566.4, 54596.5, 54632.6, 54756.6, 54850.7, 54936.6, 54976.6, 54997.6]
agile_win_end = [54508.5, 54586.4, 54626.6, 54647.4, 54843.9, 54890.7, 54966.6, 54980.5, 55055.6]

C_NAVY = "#000085"
C_BAT = "#E8003A"
C_AGRED = "#DE0A5A"
C_GREY = "#6A6A6A"
C_R215 = "#000000"
C_R48 = "#FF2044"
C_R112 = "#A52AF0"
C_AMI = "#12E012"
SPINE = "#3A3A3A"

W, H = 1885, 1191
LEFT, RIGHT = 138 / W, 1811 / W
panels_px = [(6, 283), (288, 564), (570, 847), (852, 1129)]


def style_axis(ax):
    for s in ax.spines.values():
        s.set_color(SPINE)
        s.set_linewidth(1.6)
    ax.set_xlim(54450, 55100)
    ax.xaxis.set_major_locator(mticker.MultipleLocator(100))
    ax.xaxis.set_minor_locator(mticker.MultipleLocator(10))
    ax.tick_params(which="both", direction="in", top=True, right=True, colors="#222222",
                   labelcolor="black", labelsize=15)
    ax.tick_params(axis="y", which="major", length=24, width=1.4, pad=6)
    ax.tick_params(axis="y", which="minor", length=12, width=1.3)
    ax.tick_params(axis="x", which="major", length=7, width=1.2, pad=10)
    ax.tick_params(axis="x", which="minor", length=4, width=1.0)
    ax.grid(False)


def box_legend(ax, handles, x0, y1, **kw):
    kw.setdefault("handletextpad", 0.35)
    kw.setdefault("fontsize", 16)
    leg = ax.legend(handles=handles, loc="upper left", bbox_to_anchor=(x0, y1), borderaxespad=0,
                    frameon=True, fancybox=False, edgecolor="black", framealpha=1, **kw)
    leg.get_frame().set_linewidth(1.4)
    return leg


fig = plt.figure(figsize=(W / 100, H / 100), dpi=100)
axes = []
for top, bot in panels_px:
    axes.append(fig.add_axes([LEFT, 1 - bot / H, RIGHT - LEFT, (bot - top) / H]))
ax1, ax2, ax3, ax4 = axes

# ---- panel 1: radio ----
ax1.set_yscale("log")
ax1.set_ylim(1, 3e4)
sns.scatterplot(x=ami_mjd, y=ami_flux, ax=ax1, color=C_AMI, s=44, linewidth=0, zorder=2)
for mjd, flux, col in [(r215_mjd, r215_flux, C_R215), (r48_mjd, r48_flux, C_R48), (r112_mjd, r112_flux, C_R112)]:
    ax1.plot(mjd, flux, ls="none", marker="+", ms=13, mew=1.5, color=col, zorder=3)
for mjd, flux, col in [(ul215_mjd, ul215_flux, "#333333"), (ul48_mjd, ul48_flux, "#FF4466"),
                       (ul112_mjd, ul112_flux, "#B860F0")]:
    for x, y in zip(mjd, flux):
        ax1.annotate("", xy=(x, y * 0.55), xytext=(x, y),
                     arrowprops=dict(arrowstyle="->", color=col, lw=1.2, mutation_scale=13,
                                     shrinkA=0, shrinkB=0))
ax1.yaxis.set_major_locator(mticker.FixedLocator([1, 10, 100, 1000, 10000]))
ax1.yaxis.set_major_formatter(mticker.FuncFormatter(lambda v, p: f"{v:g}"))
ax1.yaxis.set_minor_locator(mticker.LogLocator(base=10, subs=range(2, 10), numticks=20))
ax1.yaxis.set_minor_formatter(mticker.NullFormatter())
radio_handles = [
    Line2D([], [], ls="none", marker="+", ms=13, mew=1.5, color=C_R215, label="2.15 GHz (RATAN-600)"),
    Line2D([], [], ls="none", marker="+", ms=13, mew=1.5, color=C_R48, label="4.8 GHz (RATAN-600)"),
    Line2D([], [], ls="none", marker="+", ms=13, mew=1.5, color=C_R112, label="11.2 GHz (RATAN-600)"),
    Line2D([], [], ls="none", marker="o", ms=6.5, color=C_AMI, label="15 GHz (AMI-LA)"),
]
box_legend(ax1, radio_handles, 0.307, 0.962, handlelength=1.1, borderpad=0.25, labelspacing=0.0,
           fontsize=16.5, handletextpad=0.3)

# ---- panel 2: RXTE/ASM ----
ax2.set_ylim(-1, 15)
ax2.axhline(asm_level, color="#3C3CB0", lw=1.6, ls=(0, (5, 3.5)), zorder=1)
ax2.errorbar(asm_bar_mjd, asm_bar_rate, yerr=asm_bar_err, fmt="none", ecolor=C_NAVY, elinewidth=1.4, zorder=2)
sns.scatterplot(x=asm_mjd, y=asm_rate, ax=ax2, color=C_NAVY, s=52, linewidth=0, zorder=3)
ax2.yaxis.set_major_locator(mticker.MultipleLocator(5))
ax2.yaxis.set_minor_locator(mticker.MultipleLocator(1))
box_legend(ax2, [Line2D([], [], ls="none", marker="o", ms=8, color=C_NAVY, label="RXTE/ASM")],
           0.354, 0.971, handlelength=0.8, borderpad=0.3)

# ---- panel 3: Swift/BAT ----
ax3.set_ylim(-0.01, 0.08)
ax3.axhline(bat_level, color="#F03458", lw=1.6, ls=(0, (5, 3.5)), zorder=1)
ax3.errorbar(bat_bar_mjd, bat_bar_rate, yerr=bat_bar_err, fmt="none", ecolor=C_BAT, elinewidth=1.4, zorder=2)
sns.scatterplot(x=bat_mjd, y=bat_rate, ax=ax3, color=C_BAT, s=52, linewidth=0, zorder=3)
ax3.yaxis.set_major_locator(mticker.MultipleLocator(0.02))
ax3.yaxis.set_minor_locator(mticker.MultipleLocator(0.005))
ax3.yaxis.set_major_formatter(mticker.FormatStrFormatter("%.2f"))
box_legend(ax3, [Line2D([], [], ls="none", marker="o", ms=8, color=C_BAT, label="Swift/BAT")],
           0.354, 0.981, handlelength=0.8, borderpad=0.3)

# ---- panel 4: AGILE-GRID ----
ax4.set_ylim(0, 4e-6)
for a, b in zip(agile_win_start, agile_win_end):
    ax4.axvspan(a, b, ymin=0.012, ymax=0.986, color="#E6E6E6", lw=0, zorder=0)
scale = 1e-6
for x, y in zip(agile_ul_mjd, agile_ul_flux):
    ax4.annotate("", xy=(x, (y - 0.4) * scale), xytext=(x, y * scale),
                 arrowprops=dict(arrowstyle="->", color="#777777", lw=1.1, mutation_scale=13,
                                 shrinkA=0, shrinkB=0), zorder=2)
sns.scatterplot(x=agile_ul_mjd, y=[v * scale for v in agile_ul_flux], ax=ax4, color=C_GREY,
                s=28, linewidth=0, zorder=3)
ax4.errorbar(agile_lo_mjd, [v * scale for v in agile_lo_flux], yerr=[e * scale for e in agile_lo_err],
             fmt="none", ecolor="black", elinewidth=1.6, zorder=3)
sns.scatterplot(x=agile_lo_mjd, y=[v * scale for v in agile_lo_flux], ax=ax4, color="black",
                s=80, linewidth=0, zorder=4)
ax4.errorbar(agile_hi_mjd, [v * scale for v in agile_hi_flux], yerr=[e * scale for e in agile_hi_err],
             fmt="none", ecolor=C_AGRED, elinewidth=1.6, zorder=3)
sns.scatterplot(x=agile_hi_mjd, y=[v * scale for v in agile_hi_flux], ax=ax4, color=C_AGRED,
                s=80, linewidth=0, zorder=4)
agile_ticks = [0, 1e-6, 2e-6, 3e-6, 4e-6]
agile_labels = ["0", "1\u202210$^{-6}$", "2\u202210$^{-6}$", "3\u202210$^{-6}$", "4\u202210$^{-6}$"]
ax4.yaxis.set_major_locator(mticker.FixedLocator(agile_ticks))
ax4.yaxis.set_major_formatter(mticker.FixedFormatter(agile_labels))
ax4.yaxis.set_minor_locator(mticker.MultipleLocator(1e-7))
box_legend(ax4, [Line2D([], [], ls="none", label="AGILE-GRID")], 0.346, 0.977,
           handlelength=0.9, borderpad=0.3, handletextpad=0.2)

for ax in axes:
    style_axis(ax)
for ax in (ax1, ax2, ax3):
    ax.tick_params(labelbottom=False)

ylabels = [
    ("Radio Flux Density\n[mJy]", 35, 144),
    ("Count rate (3-5 keV)\n[counts s$^{-1}$]", 73, 418),
    ("Count rate (15-50 keV)\n[counts cm$^{-2}$s$^{-1}$]", 55, 712),
    ("Flux (E > 100 MeV)\n[photons cm$^{-2}$ s$^{-1}$]", 42, 990),
]
for txt, px, py in ylabels:
    fig.text(px / W, 1 - py / H, txt, rotation=90, ha="center", va="center", fontsize=16,
             linespacing=0.9, multialignment="center")
fig.text(974 / W, 1 - 1175 / H, "Time  [MJD]", ha="center", va="center", fontsize=16)

# edge tick labels sit inside the panel, as in the original layout
fig.canvas.draw()
for ax in axes:
    lo, hi = ax.get_ylim()
    tol = abs(hi - lo) * 1e-6
    for t in ax.yaxis.get_major_ticks():
        loc = t.get_loc()
        if abs(loc - hi) <= tol:
            t.label1.set_verticalalignment("top")
        elif abs(loc - lo) <= tol:
            t.label1.set_verticalalignment("bottom")

fig.savefig("out.png", dpi=100)
